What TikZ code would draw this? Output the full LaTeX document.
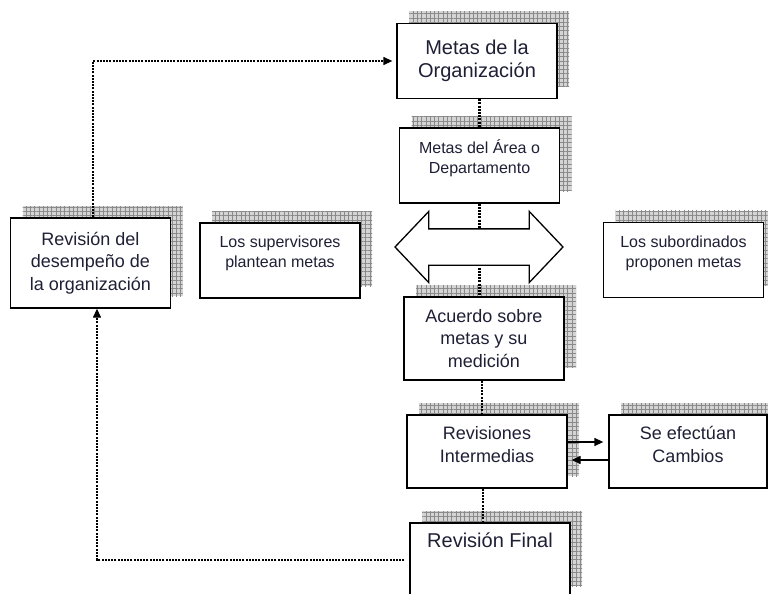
\documentclass[tikz,border=0pt]{standalone}
\usepackage{fontspec}
\setmainfont{Liberation Sans}
\usetikzlibrary{arrows.meta,shadows,patterns.meta,shapes.arrows}
\definecolor{textoazul}{HTML}{1F1F36}
\definecolor{sombragris}{HTML}{D4D4D4}
\definecolor{rejilla}{HTML}{8A8A8A}

\begin{document}
\begin{tikzpicture}[
  x=1pt, y=-1pt,
  caja/.style={
    draw=black,
    line width=1.3pt,
    fill=white,
    align=center,
    text=textoazul,
    minimum width=160pt,
    minimum height=75pt,
    inner sep=2pt,
    general shadow={fill=sombragris, shadow xshift=12pt, shadow yshift=12pt},
    general shadow={pattern={Hatch[angle=0,distance=4.3pt,line width=0.4pt]},
      pattern color=rejilla, shadow xshift=12pt, shadow yshift=12pt}
  },
  grande/.style={font=\fontsize{20}{23}\selectfont},
  mediana/.style={font=\fontsize{18}{22.5}\selectfont},
  chica/.style={font=\fontsize{16}{20}\selectfont},
  doble/.style={
    double arrow,
    draw=black,
    line width=1.3pt,
    fill=white,
    inner xsep=0pt,
    inner ysep=17.5pt,
    minimum height=168pt,
    double arrow head extend=17.5pt,
    double arrow tip angle=93
  },
  punteado/.style={line width=2.4pt, dash pattern=on 2pt off 1.2pt},
  flecha/.style={-{Triangle[length=9pt,width=8pt]}, line width=1.3pt}
]
\useasboundingbox (0,0) rectangle (768,594);

\node[caja, grande] (metas) at (477,61) {Metas de la\\Organización};
\node[caja, chica, text depth=17pt] (area) at (479.5,165.5) {Metas del Área o\\Departamento};
\node[caja, mediana, minimum height=90pt] (desempeno) at (90.5,263) {Revisión del\\desempeño de\\la organización};
\node[caja, chica, text depth=17pt] (supervisores) at (280,260.5) {Los supervisores\\plantean metas};
\node[caja, chica, text depth=17pt] (subordinados) at (683.5,260) {Los subordinados\\proponen metas};
\node[caja, mediana, minimum height=83pt] (acuerdo) at (484,338.5) {Acuerdo sobre\\metas y su\\medición};
\node[caja, mediana, minimum height=73pt, text depth=14pt] (revisiones) at (487,451.5) {Revisiones\\Intermedias};
\node[caja, mediana, minimum height=73pt, minimum width=158pt, text depth=14pt] (cambios) at (688,451.5) {Se efectúan\\Cambios};
\node[caja, grande, text depth=40pt] (final) at (490,560.5) {Revisión Final};

\draw[punteado] (area.north |- metas.south) -- (area.north);
\draw[punteado] (area.south) -- (area.south |- acuerdo.north);
\draw[punteado] ([xshift=-2pt]acuerdo.south) -- ([xshift=-2pt]acuerdo.south |- revisiones.north);
\draw[punteado] ([xshift=-4pt]revisiones.south) -- ([xshift=-4pt]revisiones.south |- final.north);

\node[doble] (intercambio) at (479,247) {};

\draw[punteado, flecha, shorten >=4pt] ([xshift=2.5pt]desempeno.north) |- (metas.west);
\draw[punteado, flecha, shorten <=5pt] ([yshift=0.5pt]final.west) -| ([xshift=6.5pt]desempeno.south);

\draw[flecha, shorten >=5pt] ([yshift=9.5pt]revisiones.east) -- ([yshift=9.5pt]cambios.west);
\draw[flecha, shorten >=4pt] ([yshift=-8.5pt]cambios.west) -- ([yshift=-8.5pt]revisiones.east);

\end{tikzpicture}
\end{document}
